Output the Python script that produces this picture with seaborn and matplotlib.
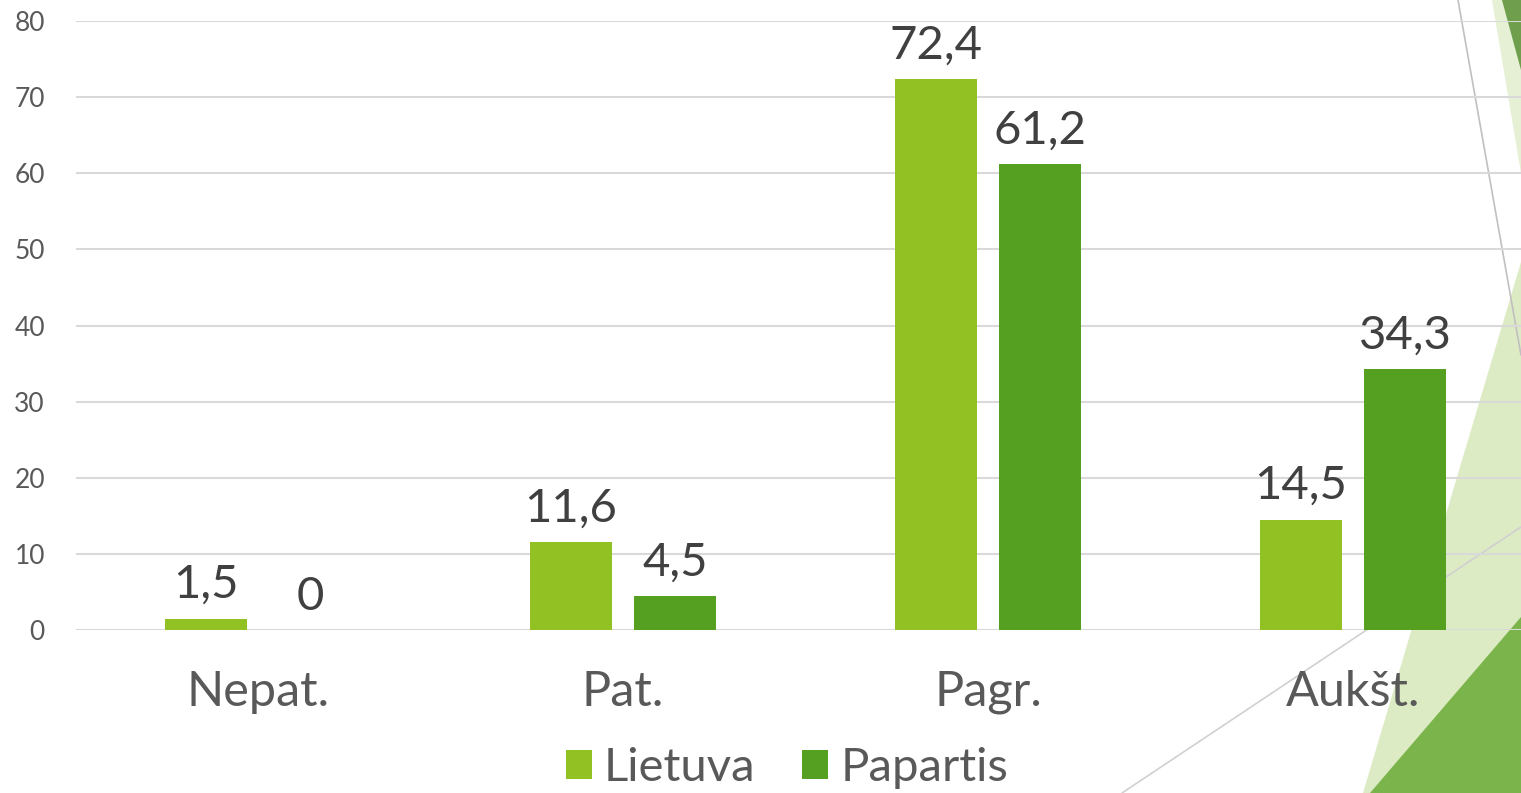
import matplotlib
matplotlib.use("Agg")
import matplotlib.pyplot as plt
import seaborn as sns
import pandas as pd
from matplotlib.patches import Polygon
from matplotlib.lines import Line2D

categories = ["Nepat.", "Pat.", "Pagr.", "Aukšt."]
series_names = ["Lietuva", "Papartis"]
lietuva = [1.5, 11.6, 72.4, 14.5]
papartis = [0, 4.5, 61.2, 34.3]
y_ticks = [0, 10, 20, 30, 40, 50, 60, 70, 80]
colors = ["#92C123", "#56A021"]

df = pd.DataFrame({
    "cat": categories * 2,
    "series": [series_names[0]] * 4 + [series_names[1]] * 4,
    "value": lietuva + papartis,
})

sns.set_theme(style="white")
plt.rcParams["font.family"] = ["Lato", "DejaVu Sans"]

W, H = 1521, 793
fig = plt.figure(figsize=(W / 100, H / 100), dpi=100)
fig.patch.set_facecolor("white")

# background decoration (slide theme)
bg = fig.add_axes([0, 0, 1, 1], zorder=-1)
bg.set_xlim(0, W)
bg.set_ylim(H, 0)
bg.axis("off")
bg.add_patch(Polygon([(1363, 793), (1521, 262), (1521, 793)], closed=True, fc="#DDEBC4", ec="none"))
bg.add_patch(Polygon([(1492, 0), (1521, 0), (1521, 173)], closed=True, fc="#E6F0D4", ec="none"))
bg.add_patch(Polygon([(1502, 0), (1521, 0), (1521, 70)], closed=True, fc="#6F9E4C", ec="none"))
bg.add_patch(Polygon([(1370, 793), (1521, 617), (1521, 793)], closed=True, fc="#7AB44B", ec="none"))
bg.add_line(Line2D([1458, 1521], [0, 355], color="#C0C0C0", lw=1.2))
bg.add_line(Line2D([1122, 1521], [793, 527], color="#D0D0D0", lw=1.2))

ax_left = 75.5
ax_w = 1460
ax = fig.add_axes([ax_left / W, 1 - 630 / H, ax_w / W, (630 - 21) / H])
ax.set_facecolor("none")

sns.barplot(data=df, x="cat", y="value", hue="series", order=categories,
            hue_order=series_names, palette=colors, width=0.57, gap=0.22,
            saturation=1, linewidth=0, ax=ax, legend=True, zorder=3)

ax.set_ylim(0, 80)
ax.set_yticks(y_ticks)
ax.set_xlabel("")
ax.set_ylabel("")
ax.yaxis.grid(True, color="#D9D9D9", linewidth=1.5, zorder=0)
ax.set_axisbelow(True)
for s in ax.spines.values():
    s.set_visible(False)
ax.tick_params(axis="y", length=0, pad=22, labelsize=19, labelcolor="#595959")
ax.tick_params(axis="x", length=0, pad=29, labelsize=35, labelcolor="#595959")

for cont, vals in zip(ax.containers, [lietuva, papartis]):
    labels = [f"{v:g}".replace(".", ",") for v in vals]
    ax.bar_label(cont, labels=labels, padding=9, fontsize=34, color="#404040")

leg = ax.legend(loc="center", bbox_to_anchor=(787 / W, 1 - 768 / H),
                bbox_transform=fig.transFigure, ncol=2, frameon=False,
                fontsize=34, handlelength=0.55, handleheight=0.55,
                handletextpad=0.25, columnspacing=1.0)
for t in leg.get_texts():
    t.set_color("#595959")

fig.savefig("out.png", dpi=100, facecolor="white")
